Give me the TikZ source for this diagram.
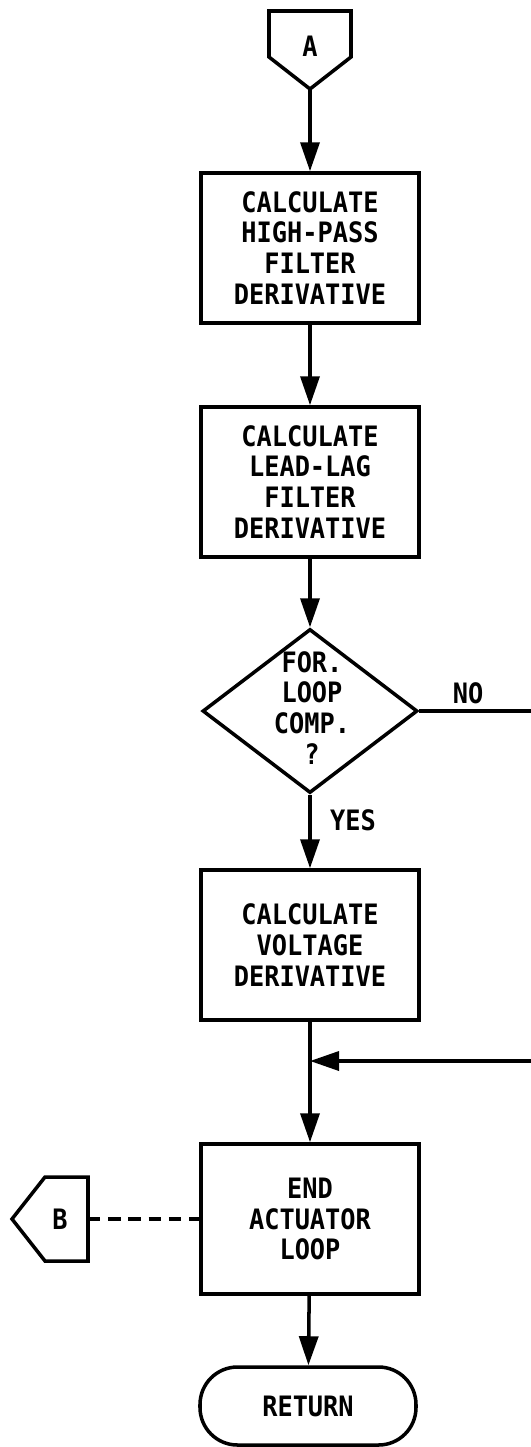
\documentclass[tikz,border=0pt]{standalone}
\usepackage{fontspec}
\newfontfamily\chartfont{DejaVu Sans Mono}[FakeStretch=0.9]
\usetikzlibrary{
  arrows.meta,
  positioning,
  shapes.geometric
}

\begin{document}
\begin{tikzpicture}[>={Triangle[length=0.58cm,width=0.38cm]},line width=2pt,
  every node/.style={font=\chartfont\bfseries\fontsize{16}{17.6}\selectfont},
  procbox/.style={draw,minimum width=4.36cm,minimum height=3cm,align=center,inner sep=0pt},
  decbox/.style={draw,diamond,minimum width=4.3cm,minimum height=3.28cm,inner sep=0pt},
  endbox/.style={draw,rounded corners=0.75cm,minimum width=4.32cm,minimum height=1.56cm},
  flow/.style={->},
  link/.style={dash pattern=on 7pt off 4.5pt,line width=1.8pt}]
  \useasboundingbox (0,0) rectangle (10.62,-28.94);
  \clip (0,0) rectangle (10.62,-28.94);
  % off-page connector A
  \draw (5.38,-0.22) -- (7.02,-0.22) -- (7.02,-1.14) -- (6.2,-1.78) -- (5.38,-1.14) -- cycle;
  \node (conA) at (6.2,-0.92) {A};
  \coordinate (conAtip) at (6.2,-1.78);
  % main column
  \node[procbox] (hpass) at (6.2,-4.96)  {CALCULATE\\HIGH-PASS\\FILTER\\DERIVATIVE};
  \node[procbox] (llag)  at (6.2,-9.64)  {CALCULATE\\LEAD-LAG\\FILTER\\DERIVATIVE};
  \node[decbox]  (dec)   at (6.2,-14.22) {};
  \node[align=center] (decText) at (6.24,-14.16) {FOR.\\LOOP\\COMP.\\?};
  \node[procbox] (volt)  at (6.2,-18.9)  {CALCULATE\\VOLTAGE\\DERIVATIVE};
  \coordinate (junc) at (6.2,-21.22);
  \node[procbox] (endact) at (6.2,-24.38) {END\\ACTUATOR\\LOOP};
  \node[endbox]  (ret)   at (6.16,-28.12) {RETURN};
  % off-page connector B
  \draw (1.76,-23.54) -- (0.9,-23.54) -- (0.24,-24.38) -- (0.9,-25.22) -- (1.76,-25.22) -- cycle;
  \node (conB) at (1.2,-24.38) {B};
  \coordinate (conBtip) at (1.76,-24.38);
  % loop back on NO
  \coordinate (rtop) at (11.2,-14.22);
  \coordinate (rbot) at (11.2,-21.22);
  \draw[flow] (conAtip) -- (hpass);
  \draw[flow] (hpass) -- (llag);
  \draw[flow] (llag) -- (dec);
  \draw[flow] (dec) -- (volt);
  \draw (volt) -- (junc);
  \draw[flow] (junc) -- (endact);
  \draw[flow] (endact) -- (ret);
  \draw[flow] (dec.east) -- (rtop) -- (rbot) -- (junc);
  \draw[link] (conBtip) -- (endact.west);
  \node (no)  at (9.36,-13.86) {NO};
  \node (yes) at (7.06,-16.4)  {YES};
\end{tikzpicture}
\end{document}
